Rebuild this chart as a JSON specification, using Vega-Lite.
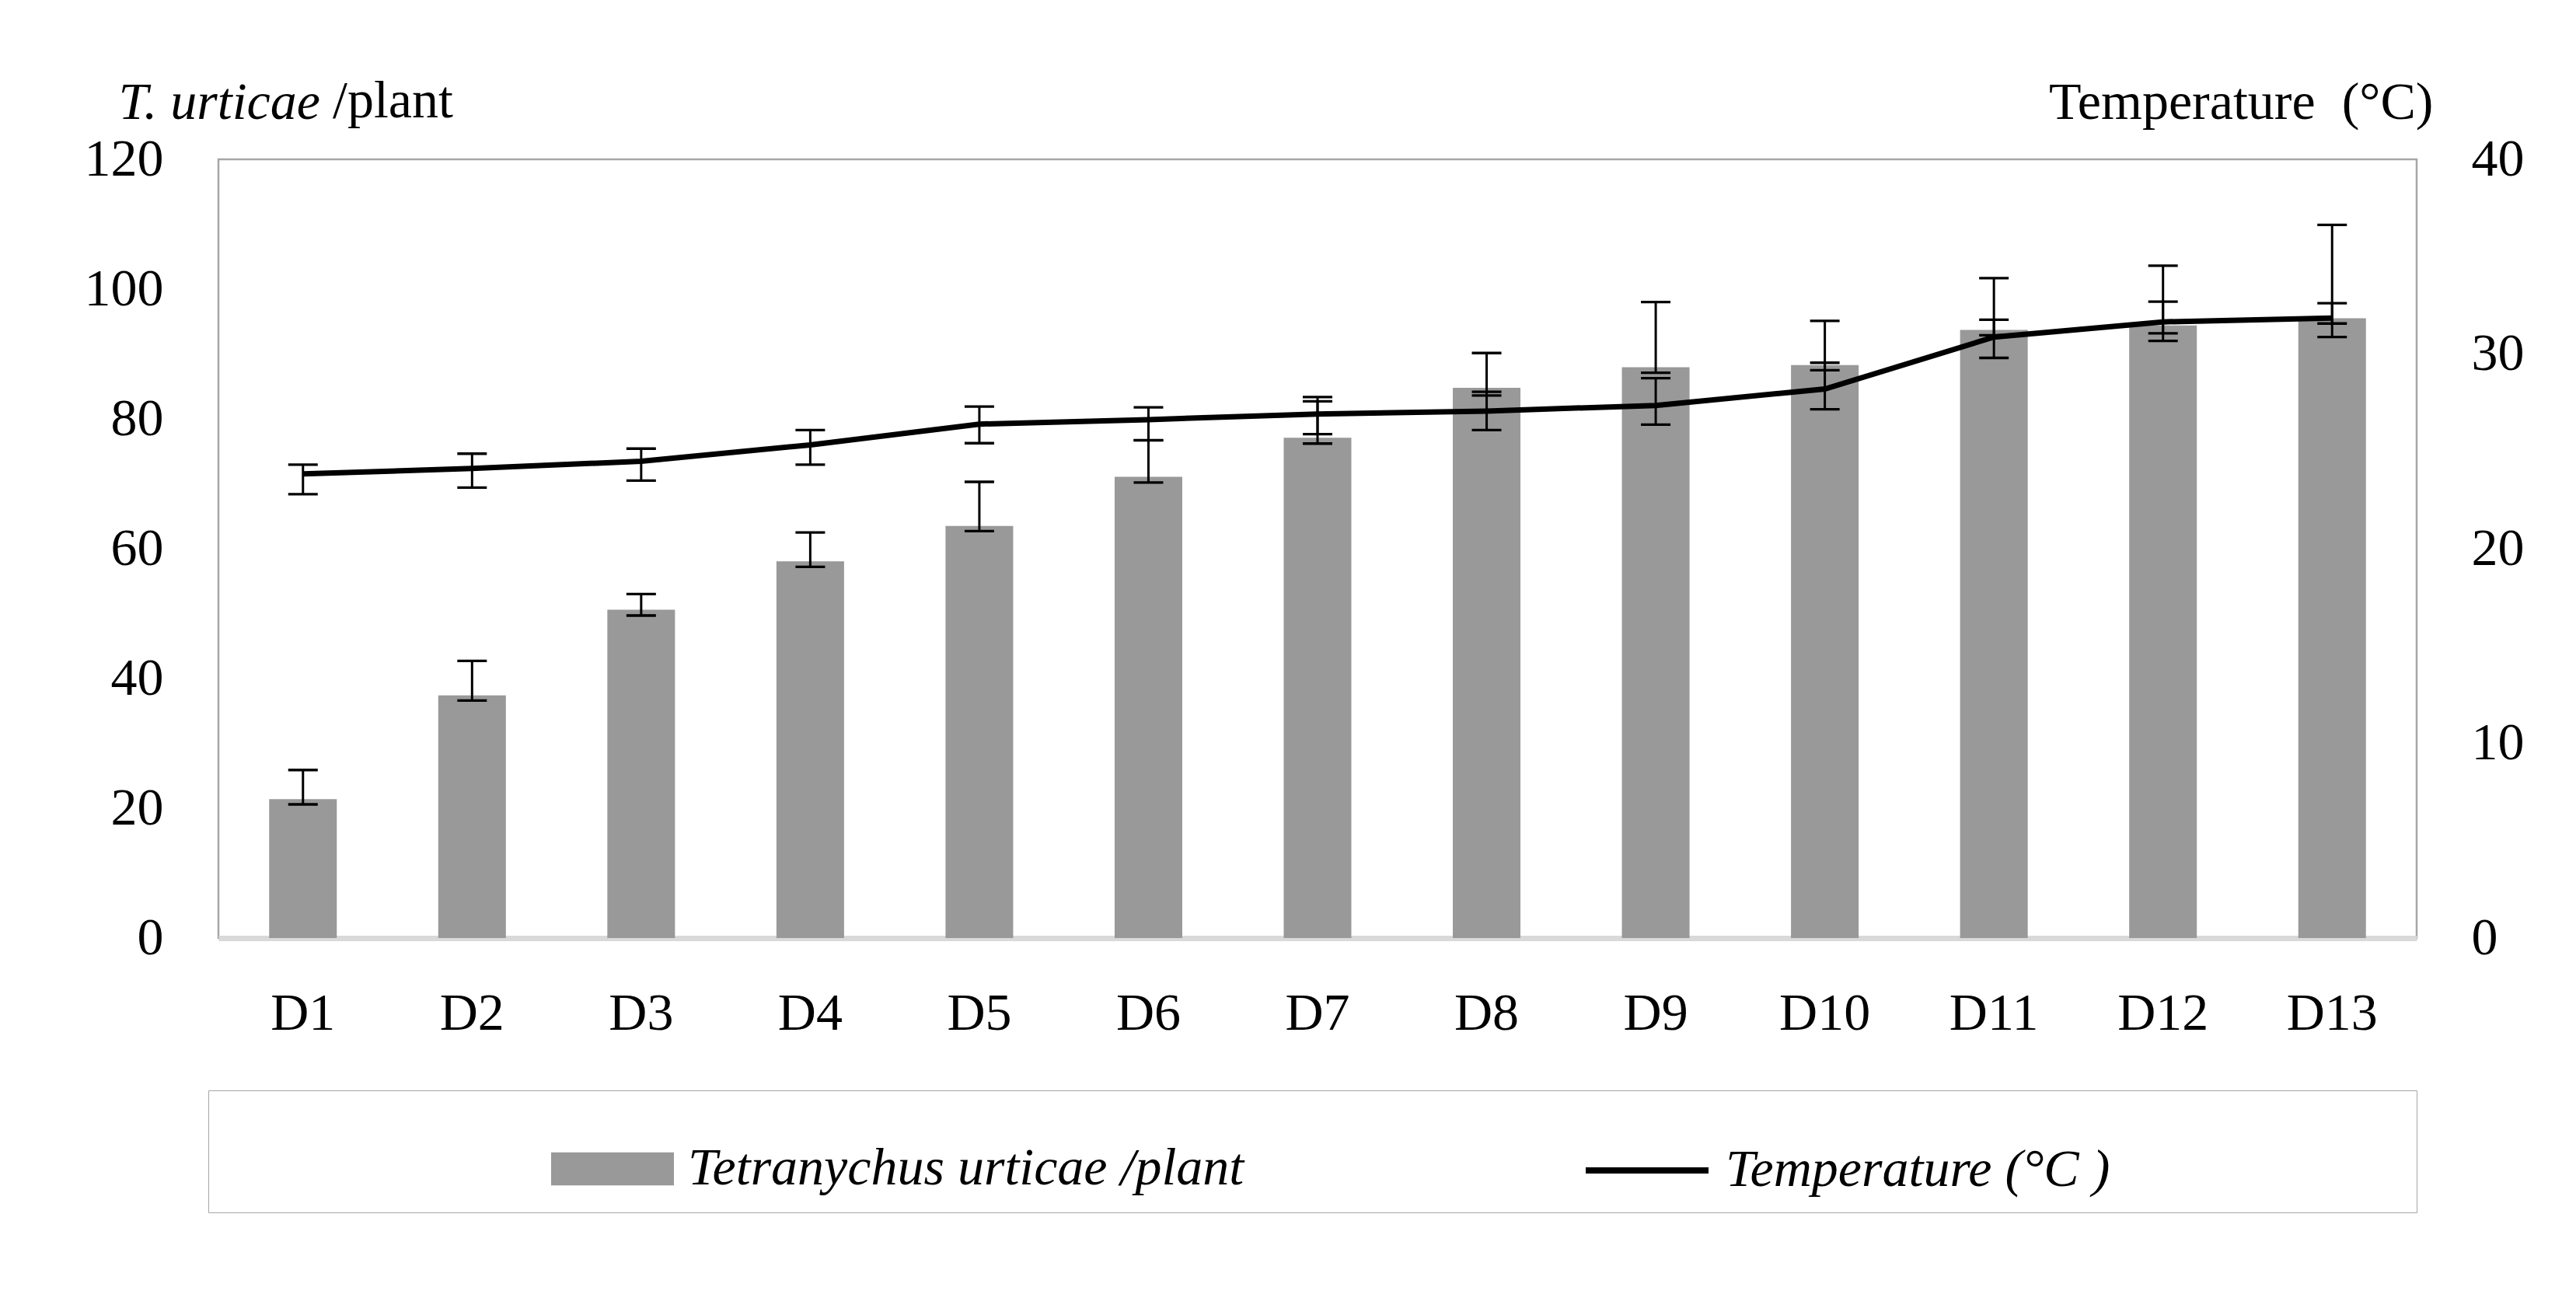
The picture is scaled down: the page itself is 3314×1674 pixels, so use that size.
{
  "$schema": "https://vega.github.io/schema/vega-lite/v6.json",
  "width": 2828,
  "height": 1002,
  "autosize": {"type": "none"},
  "padding": {"left": 281, "top": 205, "right": 205, "bottom": 467},
  "background": "white",
  "title": {
    "text": "/plant",
    "anchor": "start",
    "frame": "group",
    "orient": "top",
    "dx": 147,
    "offset": -121,
    "baseline": "alphabetic",
    "font": "Liberation Serif",
    "fontSize": 68,
    "fontWeight": "normal",
    "color": "black"
  },
  "data": {
    "values": [
      {"day": "D1", "count": 21.4, "clo": 20.6, "chi": 25.9, "temp": 23.84, "tlo": 22.8, "thi": 24.32},
      {"day": "D2", "count": 37.4, "clo": 36.6, "chi": 42.7, "temp": 24.12, "tlo": 23.14, "thi": 24.88},
      {"day": "D3", "count": 50.6, "clo": 49.7, "chi": 53.0, "temp": 24.49, "tlo": 23.5, "thi": 25.14},
      {"day": "D4", "count": 58.05, "clo": 57.2, "chi": 62.5, "temp": 25.33, "tlo": 24.32, "thi": 26.09},
      {"day": "D5", "count": 63.5, "clo": 62.7, "chi": 70.3, "temp": 26.4, "tlo": 25.42, "thi": 27.3},
      {"day": "D6", "count": 71.07, "clo": 70.2, "chi": 76.7, "temp": 26.63, "tlo": 25.57, "thi": 27.26},
      {"day": "D7", "count": 77.1, "clo": 76.2, "chi": 82.7, "temp": 26.92, "tlo": 25.88, "thi": 27.79},
      {"day": "D8", "count": 84.8, "clo": 83.6, "chi": 90.15, "temp": 27.07, "tlo": 26.09, "thi": 28.06},
      {"day": "D9", "count": 87.96, "clo": 87.1, "chi": 98.0, "temp": 27.36, "tlo": 26.37, "thi": 28.76},
      {"day": "D10", "count": 88.3, "clo": 87.5, "chi": 95.1, "temp": 28.2, "tlo": 27.16, "thi": 29.55},
      {"day": "D11", "count": 93.7, "clo": 92.9, "chi": 101.7, "temp": 30.87, "tlo": 29.8, "thi": 31.76},
      {"day": "D12", "count": 94.4, "clo": 93.2, "chi": 103.6, "temp": 31.65, "tlo": 30.67, "thi": 32.69},
      {"day": "D13", "count": 95.5, "clo": 94.7, "chi": 109.9, "temp": 31.85, "tlo": 30.87, "thi": 32.61}
    ]
  },
  "encoding": {
    "x": {
      "field": "day",
      "type": "nominal",
      "scale": {
        "domain": ["D1", "D2", "D3", "D4", "D5", "D6", "D7", "D8", "D9", "D10", "D11", "D12", "D13"],
        "paddingInner": 0,
        "paddingOuter": 0
      },
      "axis": {
        "title": null,
        "labelAngle": 0,
        "labelFontSize": 68,
        "labelPadding": 117,
        "labelBaseline": "alphabetic",
        "ticks": false,
        "tickSize": 0,
        "domainColor": "#d9d9d9",
        "domainWidth": 7
      }
    }
  },
  "layer": [
    {
      "layer": [
        {
          "mark": {"type": "bar", "width": {"band": 0.4}, "opacity": 1},
          "encoding": {
            "y": {
              "field": "count",
              "type": "quantitative",
              "scale": {"domain": [0, 120]},
              "axis": {
                "title": "T. urticae",
                "titleFontStyle": "italic",
                "titleFontWeight": "normal",
                "titleFontSize": 68,
                "titleAngle": 0,
                "titleAlign": "left",
                "titleBaseline": "alphabetic",
                "titleX": -129,
                "titleY": -53,
                "values": [0, 20, 40, 60, 80, 100, 120],
                "grid": false,
                "domain": false,
                "ticks": false,
                "tickSize": 0,
                "labelPadding": 71,
                "labelFontSize": 68
              }
            },
            "fill": {
              "datum": "Tetranychus urticae /plant",
              "scale": {"range": ["#999999"]},
              "legend": {
                "orient": "none",
                "legendX": 428,
                "legendY": 1220,
                "direction": "horizontal",
                "title": null,
                "padding": 0,
                "labelFont": "Liberation Serif",
                "labelFontSize": 68,
                "labelFontStyle": "italic",
                "labelColor": "black",
                "labelLimit": 3000,
                "labelOffset": 18,
                "symbolType": "M-1,-0.27H1V0.27H-1Z",
                "symbolSize": 24964,
                "symbolStrokeWidth": 0
              }
            }
          }
        },
        {
          "mark": {"type": "rule", "color": "black", "strokeWidth": 3},
          "encoding": {
            "y": {"field": "clo", "type": "quantitative"},
            "y2": {"field": "chi"}
          }
        },
        {
          "mark": {"type": "tick", "color": "black", "thickness": 3.3, "size": 38, "opacity": 1},
          "encoding": {"y": {"field": "clo", "type": "quantitative"}}
        },
        {
          "mark": {"type": "tick", "color": "black", "thickness": 3.3, "size": 38, "opacity": 1},
          "encoding": {"y": {"field": "chi", "type": "quantitative"}}
        }
      ]
    },
    {
      "layer": [
        {
          "mark": {"type": "line", "strokeWidth": 7, "opacity": 1},
          "encoding": {
            "y": {
              "field": "temp",
              "type": "quantitative",
              "scale": {"domain": [0, 40]},
              "axis": {
                "orient": "right",
                "title": "Temperature\u00a0 (°C)",
                "titleFontWeight": "normal",
                "titleFontSize": 68,
                "titleAngle": 0,
                "titleAlign": "right",
                "titleBaseline": "alphabetic",
                "titleX": 21,
                "titleY": -53,
                "values": [0, 10, 20, 30, 40],
                "grid": false,
                "domain": false,
                "ticks": false,
                "tickSize": 0,
                "labelPadding": 70,
                "labelFontSize": 68
              }
            },
            "stroke": {
              "datum": "Temperature (°C )",
              "scale": {"range": ["#000000"]},
              "legend": {
                "orient": "none",
                "legendX": -13,
                "legendY": 1198,
                "direction": "horizontal",
                "title": "\u00a0",
                "titleOrient": "left",
                "titleFontSize": 1,
                "titlePadding": 1748,
                "padding": 20,
                "strokeColor": "#a6a6a6",
                "labelFont": "Liberation Serif",
                "labelFontSize": 68,
                "labelFontStyle": "italic",
                "labelColor": "black",
                "labelLimit": 3000,
                "labelOffset": 18,
                "symbolType": "stroke",
                "symbolSize": 24964,
                "symbolStrokeWidth": 8,
                "labelExpr": "pad(datum.label, 39, '\u00a0') + '\u200b'"
              }
            }
          }
        },
        {
          "mark": {"type": "rule", "color": "black", "strokeWidth": 3},
          "encoding": {
            "y": {"field": "tlo", "type": "quantitative"},
            "y2": {"field": "thi"}
          }
        },
        {
          "mark": {"type": "tick", "color": "black", "thickness": 3.3, "size": 38, "opacity": 1},
          "encoding": {"y": {"field": "tlo", "type": "quantitative"}}
        },
        {
          "mark": {"type": "tick", "color": "black", "thickness": 3.3, "size": 38, "opacity": 1},
          "encoding": {"y": {"field": "thi", "type": "quantitative"}}
        }
      ]
    }
  ],
  "resolve": {"scale": {"y": "independent"}},
  "config": {
    "font": "Liberation Serif",
    "axis": {"labelColor": "black", "titleColor": "black", "labelFont": "Liberation Serif", "titleFont": "Liberation Serif"},
    "view": {"stroke": "#a6a6a6", "strokeWidth": 2.5}
  }
}
